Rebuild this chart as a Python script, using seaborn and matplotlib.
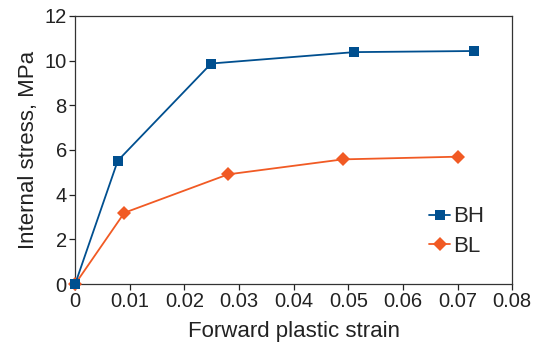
import pandas as pd
import matplotlib.pyplot as plt
import seaborn as sns

sns.set_style('ticks')
plt.rcParams['font.family'] = ['Liberation Sans', 'DejaVu Sans']

bh_strain = [0.0, 0.0078, 0.0249, 0.0511, 0.0730]
bh_stress = [0.0, 5.52, 9.87, 10.38, 10.43]
bl_strain = [0.0, 0.0090, 0.0280, 0.0490, 0.0700]
bl_stress = [0.0, 3.19, 4.91, 5.58, 5.70]

df = pd.concat([
    pd.DataFrame({'strain': bh_strain, 'stress': bh_stress, 'series': 'BH'}),
    pd.DataFrame({'strain': bl_strain, 'stress': bl_stress, 'series': 'BL'}),
])

fig = plt.figure(figsize=(5.33, 3.46), dpi=100)
ax = fig.add_axes([0.141, 0.179, 0.82, 0.775])
sns.lineplot(data=df, x='strain', y='stress', hue='series', style='series',
             markers={'BH': 's', 'BL': 'D'}, dashes=False, sort=False,
             palette={'BH': '#004f8f', 'BL': '#f15a24'},
             linewidth=1.3, markersize=7.5, markeredgewidth=0, ax=ax)
for line in ax.lines:
    line.set_clip_on(False)
    if line.get_marker() == 'D':
        line.set_markersize(7)
        line.set_zorder(3)
    else:
        line.set_zorder(4)

ax.set_xlim(0, 0.08)
ax.set_ylim(0, 12)
ax.set_xticks([0, 0.01, 0.02, 0.03, 0.04, 0.05, 0.06, 0.07, 0.08])
ax.set_xticklabels(['0', '0.01', '0.02', '0.03', '0.04', '0.05', '0.06', '0.07', '0.08'])
ax.set_yticks(range(0, 13, 2))
ax.tick_params(labelsize=14.5, colors='#222222', length=4, width=0.9, pad=2)
for s in ax.spines.values():
    s.set_visible(True)
    s.set_color('#333333')
    s.set_linewidth(0.9)
ax.set_xlabel('Forward plastic strain', fontsize=16, color='#222222', labelpad=7)
ax.set_ylabel('Internal stress, MPa', fontsize=16, color='#222222', labelpad=4)

leg = ax.legend(loc='upper left', bbox_to_anchor=(0.81, 0.29), frameon=False,
                borderpad=0, borderaxespad=0, fontsize=16, handlelength=0.95,
                handletextpad=0.15, labelspacing=0.4)
for h in leg.legend_handles:
    h.set_markeredgewidth(0)

fig.savefig('out.png', dpi=100)
